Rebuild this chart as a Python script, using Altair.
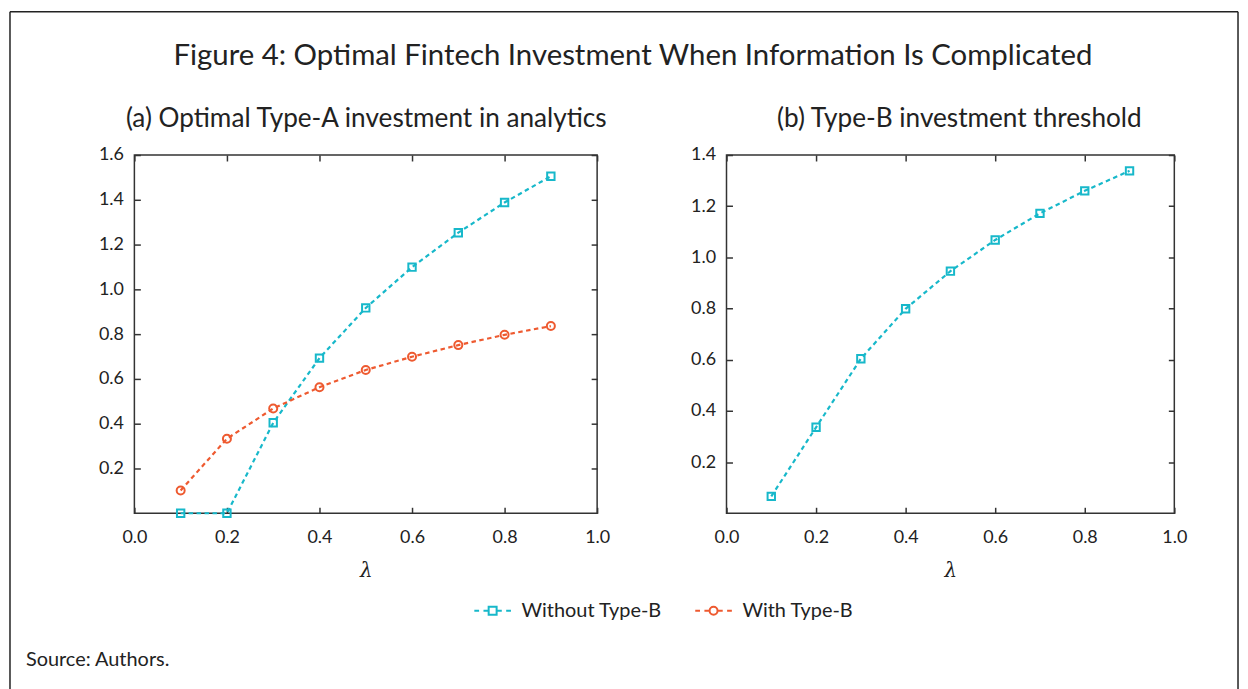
import altair as alt
import pandas as pd

# ---------------- data ----------------
lam = [0.1, 0.2, 0.3, 0.4, 0.5, 0.6, 0.7, 0.8, 0.9]
without_b = [0.0, 0.0, 0.404, 0.693, 0.917, 1.099, 1.253, 1.388, 1.505]
with_b = [0.102, 0.333, 0.468, 0.563, 0.640, 0.699, 0.751, 0.797, 0.836]
threshold_b = [0.066, 0.336, 0.604, 0.799, 0.946, 1.068, 1.172, 1.260, 1.338]

series_names = ["Without Type-B", "With Type-B"]
x_ticks = [0.0, 0.2, 0.4, 0.6, 0.8, 1.0]
y_ticks_a = [0.2, 0.4, 0.6, 0.8, 1.0, 1.2, 1.4, 1.6]
y_ticks_b = [0.2, 0.4, 0.6, 0.8, 1.0, 1.2, 1.4]

TITLE = "Figure 4: Optimal Fintech Investment When Information Is Complicated"
SUB_A = "(a) Optimal Type-A investment in analytics"
SUB_B = "(b) Type-B investment threshold"
SOURCE = "Source: Authors."
XTITLE = "λ"

# ---------------- style ----------------
CYAN = "#17B8CA"
RED = "#EE5A30"
FONT = "Lato"
TXT = "#222222"
AX = "#333333"
W1, W2, H = 465, 450, 360
DASH = [4.5, 3.5]

df_a = pd.DataFrame({
    "lam": lam * 2,
    "val": without_b + with_b,
    "series": [series_names[0]] * len(lam) + [series_names[1]] * len(lam),
})
df_b = pd.DataFrame({"lam": lam, "val": threshold_b})

color_scale = alt.Scale(domain=series_names, range=[CYAN, RED])
SQ_PATH = "M-4.6,0H-3.4M-2.3,0H-1M1,0H2.3M3.4,0H4.6M-1,-1H1V1H-1Z"
CI_PATH = "M-4.6,0H-3.4M-2.3,0H-1M1,0H2.3M3.4,0H4.6M1,0A1,1,0,1,1,-1,0A1,1,0,1,1,1,0Z"
shape_scale = alt.Scale(domain=series_names, range=[SQ_PATH, CI_PATH])

xscale = alt.Scale(domain=[0, 1], nice=False, zero=False)


def axis_main_x():
    return alt.Axis(values=x_ticks, format=".1f", ticks=False, tickSize=0, domain=False,
                    grid=False, labelFontSize=18, labelFont=FONT, labelColor=TXT,
                    labelPadding=15, labelFlush=False, labelOverlap=False,
                    title=XTITLE, titleFont="DejaVu Serif", titleFontStyle="italic",
                    titleFontWeight="normal", titleFontSize=20, titleColor=TXT, titlePadding=15)


def axis_main_y(vals):
    return alt.Axis(values=vals, format=".1f", ticks=False, tickSize=0, domain=False,
                    grid=False, labelFontSize=18, labelFont=FONT, labelColor=TXT,
                    labelPadding=11, labelOverlap=False, labelFlush=False, title=None)


def axis_tick(orient, offset, vals):
    return alt.Axis(orient=orient, offset=offset, values=vals, labels=False, domain=False,
                    grid=False, ticks=True, tickSize=6, tickWidth=1.5, tickColor=AX,
                    title=None)


def text_layer(txt, x, y, size, align="center", weight="normal", font=FONT):
    return alt.Chart(alt.Data(values=[{"t": txt}])).mark_text(
        font=font, fontSize=size, fontWeight=weight, color=TXT, align=align,
        baseline="alphabetic"
    ).encode(text="t:N", x=alt.value(x), y=alt.value(y))


def rule_layer(x, x2, y, y2):
    return alt.Chart(alt.Data(values=[{"k": 1}])).mark_rule(
        color="#222222", strokeWidth=1.5
    ).encode(x=alt.value(x), x2=alt.value(x2), y=alt.value(y), y2=alt.value(y2))


# ---------------- left panel ----------------
ya_scale = alt.Scale(domain=[0, 1.6], nice=False)
base_a = alt.Chart(df_a)
sel_wo = alt.datum.series == series_names[0]
sel_w = alt.datum.series == series_names[1]

line_wo = base_a.transform_filter(sel_wo).mark_line(
    strokeDash=DASH, strokeWidth=2.2, color=CYAN).encode(
    x=alt.X("lam:Q", scale=xscale, axis=axis_main_x()),
    y=alt.Y("val:Q", scale=ya_scale, axis=axis_main_y(y_ticks_a)),
)
line_w = base_a.transform_filter(sel_w).mark_line(
    strokeDash=DASH, strokeWidth=2.2, color=RED).encode(
    x=alt.X("lam:Q", scale=xscale, axis=None),
    y=alt.Y("val:Q", scale=ya_scale, axis=None),
)
squares_a = base_a.transform_filter(sel_wo).mark_point(
    shape="square", filled=False, size=55, strokeWidth=2, opacity=1, color=CYAN
).encode(
    x=alt.X("lam:Q", scale=xscale, axis=axis_tick("top", -H, x_ticks)),
    y=alt.Y("val:Q", scale=ya_scale, axis=axis_tick("right", -W1, y_ticks_a)),
)
circles_a = base_a.transform_filter(sel_w).mark_point(
    shape="circle", filled=False, size=65, strokeWidth=2, opacity=1, color=RED
).encode(
    x=alt.X("lam:Q", scale=xscale, axis=axis_tick("bottom", -H, x_ticks)),
    y=alt.Y("val:Q", scale=ya_scale, axis=axis_tick("left", -W1, y_ticks_a)),
)
leg = alt.Legend(
    title=None, orient="none", legendX=350, legendY=448, direction="horizontal",
    columns=2, symbolSize=64, symbolStrokeWidth=2, labelFont=FONT,
    labelFontSize=20, labelColor=TXT, labelOffset=19, columnPadding=28,
    padding=0, symbolOpacity=1)
legend_a = base_a.mark_point(filled=False, opacity=0, size=64, strokeWidth=2).encode(
    x=alt.X("lam:Q", scale=xscale, axis=None),
    y=alt.Y("val:Q", scale=ya_scale, axis=None),
    color=alt.Color("series:N", scale=color_scale, legend=leg),
    shape=alt.Shape("series:N", scale=shape_scale, legend=leg),
)

decor = [
    rule_layer(-125, -125, -144, 560),
    rule_layer(-125, 1109, -144, -144),
    rule_layer(1109, 1109, -144, 560),
    text_layer(TITLE, 501, -90, 29.5),
    text_layer(SUB_A, 233, -28, 26.3),
    text_layer(SUB_B, 829, -28, 26.3),
    text_layer(SOURCE, -109, 513, 20, align="left"),
]

left = alt.layer(line_wo, line_w, squares_a, circles_a, legend_a, *decor).resolve_axis(
    x="independent", y="independent"
).properties(width=W1, height=H)

# ---------------- right panel ----------------
yb_scale = alt.Scale(domain=[0, 1.4], nice=False)
base_b = alt.Chart(df_b)
lines_b = base_b.mark_line(strokeDash=DASH, strokeWidth=2.2, color=CYAN).encode(
    x=alt.X("lam:Q", scale=xscale, axis=axis_main_x()),
    y=alt.Y("val:Q", scale=yb_scale, axis=axis_main_y(y_ticks_b)),
)
squares_b = base_b.mark_point(shape="square", filled=False, size=55, strokeWidth=2,
                              color=CYAN, opacity=1).encode(
    x=alt.X("lam:Q", scale=xscale, axis=axis_tick("top", -H, x_ticks)),
    y=alt.Y("val:Q", scale=yb_scale, axis=axis_tick("right", -W2, y_ticks_b)),
)
ghost_b = base_b.mark_line(opacity=0).encode(
    x=alt.X("lam:Q", scale=xscale, axis=axis_tick("bottom", -H, x_ticks)),
    y=alt.Y("val:Q", scale=yb_scale, axis=axis_tick("left", -W2, y_ticks_b)),
)
right = alt.layer(lines_b, squares_b, ghost_b).resolve_axis(
    x="independent", y="independent"
).properties(width=W2, height=H)

chart = alt.hconcat(left, right, spacing=130, bounds="flush").properties(
    padding=0, background="white"
).configure_view(stroke=AX, strokeWidth=1.5)

chart.save("out.html", embed_options={"renderer": "svg", "actions": False})
